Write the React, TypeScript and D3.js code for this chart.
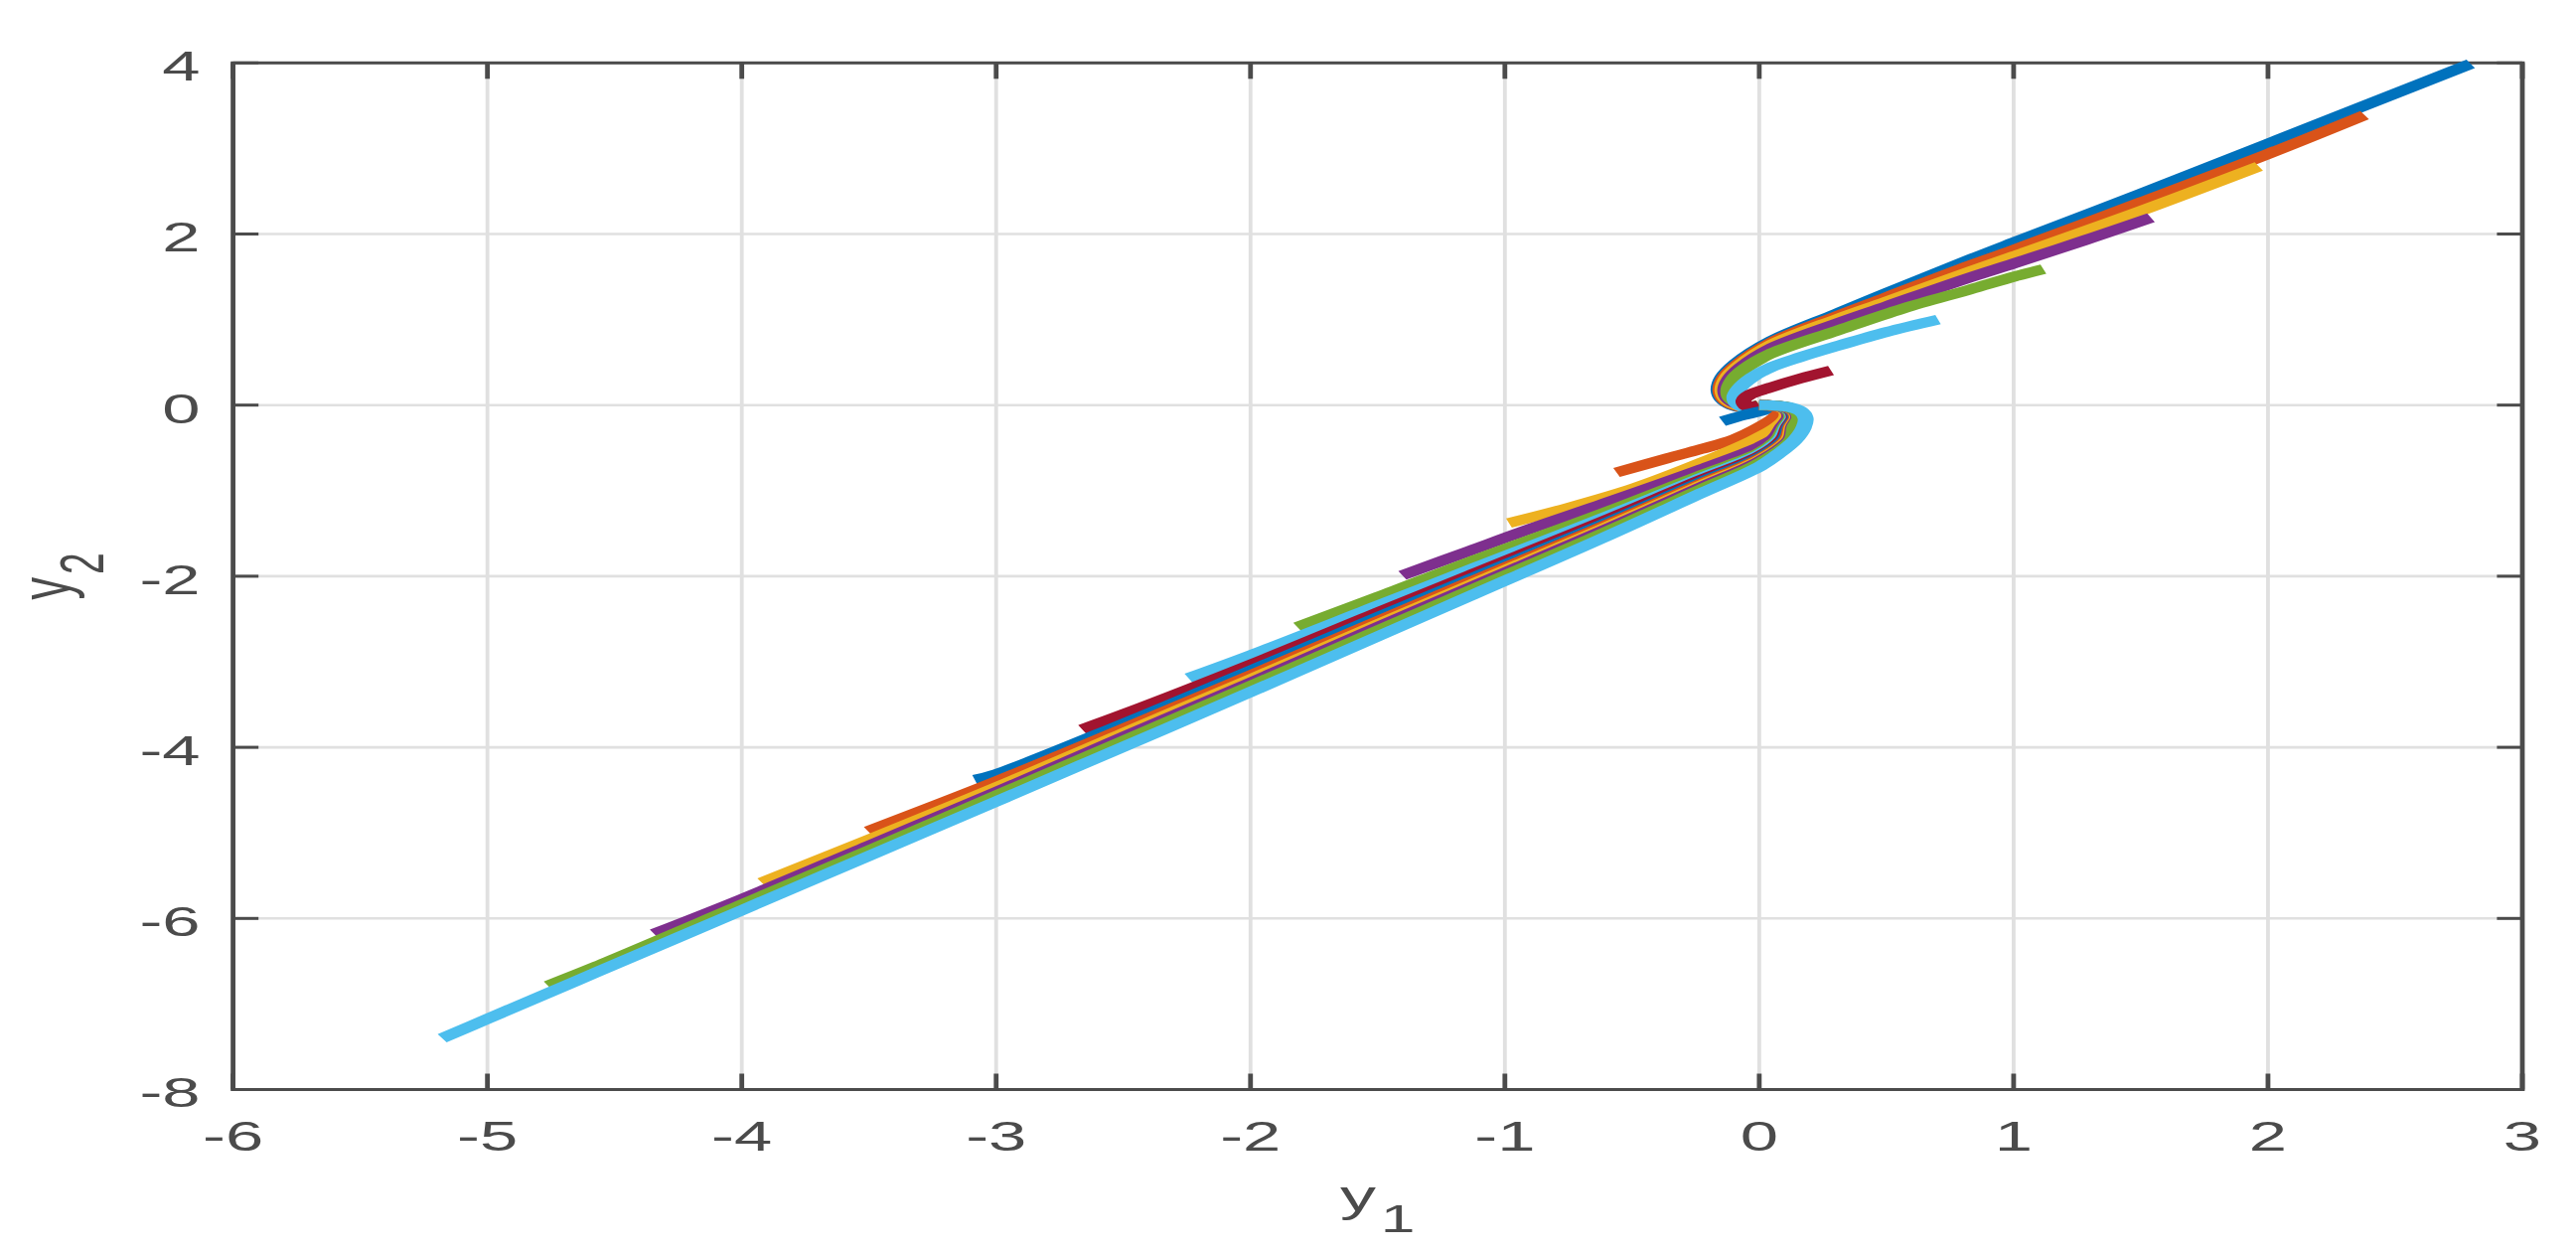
import React from "react";
import * as d3 from "d3";

// ---- axis ticks ----
const X_TICKS = [-6, -5, -4, -3, -2, -1, 0, 1, 2, 3];
const Y_TICKS = [4, 2, 0, -2, -4, -6, -8];

// MATLAB default colour order
const LINE_COLORS = ["#0072BD", "#D95319", "#EDB120", "#7E2F8E", "#77AC30", "#4DBEEE", "#A2142F"];

// ---- trajectories [y1, y2] ----
const T1 = [[2.797,3.99],[2.4,3.525],[2.0,3.055],[1.5,2.47],[1.0,1.9],[0.827,1.70],[0.5,1.31],[0.305,1.07],[0.044,0.745],[-0.09,0.49],[-0.145,0.32],[-0.16,0.17],[-0.145,0.07],[-0.11,0.0],[-0.06,-0.035],[-0.02,-0.02],[0,0]];
const T2 = [[2.38,3.39],[2.0,2.935],[1.5,2.37],[1.0,1.815],[0.827,1.63],[0.5,1.26],[0.305,1.04],[0.044,0.725],[-0.085,0.475],[-0.138,0.315],[-0.153,0.17],[-0.138,0.07],[-0.102,0.002],[-0.055,-0.03],[-0.018,-0.018],[0,0]];
const T3 = [[1.964,2.79],[1.5,2.27],[1.0,1.74],[0.827,1.56],[0.5,1.21],[0.305,1.005],[0.044,0.70],[-0.08,0.46],[-0.13,0.31],[-0.145,0.17],[-0.13,0.07],[-0.094,0.005],[-0.05,-0.025],[-0.017,-0.015],[0,0]];
const T4 = [[1.54,2.19],[1.283,1.93],[1.0,1.655],[0.827,1.49],[0.5,1.155],[0.305,0.955],[0.044,0.66],[-0.072,0.44],[-0.118,0.30],[-0.134,0.17],[-0.12,0.07],[-0.085,0.01],[-0.045,-0.02],[-0.015,-0.01],[0,0]];
const T5 = [[1.117,1.59],[1.006,1.505],[0.827,1.35],[0.566,1.13],[0.305,0.87],[0.044,0.60],[-0.06,0.42],[-0.105,0.29],[-0.122,0.16],[-0.11,0.07],[-0.075,0.015],[-0.04,-0.015],[-0.015,-0.01],[0,0]];
const T6 = [[0.703,1.0],[0.5,0.855],[0.305,0.69],[0.16,0.56],[0.044,0.44],[-0.03,0.32],[-0.08,0.19],[-0.098,0.09],[-0.085,0.01],[-0.05,-0.03],[-0.015,-0.018],[0,0]];
const T7 = [[0.282,0.405],[0.16,0.31],[0.031,0.194],[-0.035,0.125],[-0.062,0.05],[-0.05,-0.012],[-0.02,-0.014],[0,0]];
const T8 = [[-0.145,-0.19],[-0.06,-0.117],[0.018,-0.06],[0.042,-0.03],[0.025,-0.008],[0,0]];
const T9 = [[-0.561,-0.788],[-0.36,-0.62],[-0.23,-0.515],[-0.1,-0.40],[0.005,-0.25],[0.065,-0.135],[0.09,-0.06],[0.072,-0.02],[0.03,-0.006],[0,0]];
const T10 = [[-0.984,-1.379],[-0.75,-1.20],[-0.49,-0.97],[-0.229,-0.675],[-0.03,-0.42],[0.068,-0.26],[0.105,-0.15],[0.104,-0.07],[0.08,-0.022],[0.038,-0.004],[0,0]];
const T11 = [[-1.403,-1.99],[-1.14,-1.705],[-0.9,-1.445],[-0.62,-1.16],[-0.229,-0.75],[0,-0.49],[0.06,-0.39],[0.09,-0.26],[0.117,-0.15],[0.112,-0.07],[0.085,-0.022],[0.04,-0.004],[0,0]];
const T12 = [[-1.816,-2.593],[-1.5,-2.244],[-1.14,-1.836],[-0.62,-1.27],[-0.229,-0.82],[0,-0.56],[0.07,-0.41],[0.10,-0.26],[0.125,-0.15],[0.118,-0.07],[0.089,-0.022],[0.042,-0.004],[0,0]];
const T13 = [[-2.244,-3.19],[-2,-2.924],[-1.5,-2.344],[-1.14,-1.926],[-0.62,-1.325],[-0.229,-0.85],[0,-0.58],[0.08,-0.41],[0.107,-0.26],[0.131,-0.15],[0.123,-0.07],[0.093,-0.022],[0.044,-0.004],[0,0]];
const T14 = [[-2.662,-3.79],[-2.5,-3.614],[-2,-3.034],[-1.5,-2.424],[-1.14,-1.991],[-0.62,-1.365],[-0.229,-0.875],[0,-0.60],[0.09,-0.41],[0.113,-0.26],[0.136,-0.15],[0.127,-0.07],[0.096,-0.022],[0.046,-0.004],[0,0]];
const T15 = [[-3.084,-4.38],[-3,-4.314],[-2.5,-3.724],[-2,-3.104],[-1.5,-2.479],[-1.14,-2.036],[-0.62,-1.40],[-0.229,-0.90],[0,-0.615],[0.098,-0.41],[0.118,-0.26],[0.141,-0.15],[0.131,-0.07],[0.099,-0.022],[0.048,-0.004],[0,0]];
const T16 = [[-3.504,-4.98],[-3,-4.399],[-2.5,-3.784],[-2,-3.159],[-1.5,-2.524],[-1.14,-2.071],[-0.62,-1.425],[-0.229,-0.92],[0,-0.63],[0.106,-0.41],[0.123,-0.26],[0.145,-0.15],[0.135,-0.07],[0.102,-0.022],[0.05,-0.004],[0,0]];
const T17 = [[-3.922,-5.58],[-3.5,-5.079],[-3,-4.469],[-2.5,-3.834],[-2,-3.204],[-1.5,-2.564],[-1.14,-2.106],[-0.62,-1.45],[-0.229,-0.94],[0,-0.645],[0.113,-0.41],[0.128,-0.26],[0.149,-0.15],[0.139,-0.07],[0.105,-0.022],[0.051,-0.004],[0,0]];
const T18 = [[-4.345,-6.18],[-4,-5.774],[-3.5,-5.149],[-3,-4.524],[-2.5,-3.879],[-2,-3.244],[-1.5,-2.594],[-1.14,-2.136],[-0.62,-1.475],[-0.229,-0.96],[0,-0.66],[0.12,-0.41],[0.133,-0.26],[0.153,-0.15],[0.143,-0.07],[0.108,-0.022],[0.052,-0.004],[0,0]];
const T19 = [[-4.762,-6.785],[-4.573,-6.562],[-4,-5.839],[-3.5,-5.204],[-3,-4.564],[-2.5,-3.924],[-2,-3.284],[-1.5,-2.636],[-1.14,-2.171],[-0.62,-1.505],[-0.229,-0.985],[0,-0.68],[0.126,-0.41],[0.138,-0.26],[0.157,-0.15],[0.147,-0.07],[0.111,-0.022],[0.053,-0.004],[0,0]];
const T20 = [[-5.178,-7.40],[-5,-7.174],[-4.573,-6.632],[-4,-5.904],[-3.5,-5.269],[-3,-4.634],[-2.5,-3.994],[-2,-3.354],[-1.5,-2.704],[-1.14,-2.236],[-0.62,-1.56],[-0.229,-1.03],[0,-0.72],[0.08,-0.56],[0.14,-0.41],[0.175,-0.26],[0.182,-0.15],[0.162,-0.07],[0.115,-0.022],[0.055,-0.004],[0,0]];

const TRAJECTORIES = [T1, T2, T3, T4, T5, T6, T7, T8, T9, T10, T11, T12, T13, T14, T15, T16, T17, T18, T19, T20];

export default function App() {
  const W = 2593, H = 1260;
  const SX = 1.6; // horizontal stretch of the original figure
  const L = 234.6 / SX, R = 2539 / SX, TOP = 63.3, BOT = 1096.5;
  const x = d3.scaleLinear().domain([-6, 3]).range([L, R]);
  const y = d3.scaleLinear().domain([-8, 4]).range([BOT, TOP]);
  const line = d3
    .line()
    .x((d: any) => x(d[0]))
    .y((d: any) => y(d[1]))
    .curve(d3.curveCatmullRom.alpha(0.5));

  const axisColor = "#4b4b4b";
  const gridColor = "#e0e0e0";
  const font = "'Liberation Sans', Arial, Helvetica, sans-serif";
  const tickLen = 16;

  return (
    <svg width={W} height={H} style={{ position: "absolute", left: 0, top: 0, background: "#fff" }}>
      <rect x={0} y={0} width={W} height={H} fill="#ffffff" />
      <g transform={`scale(${SX},1)`}>
        {/* grid */}
        {X_TICKS.map((t) => (
          <line key={"gx" + t} x1={x(t)} x2={x(t)} y1={TOP} y2={BOT} stroke={gridColor} strokeWidth={2.4} />
        ))}
        {Y_TICKS.map((t) => (
          <line key={"gy" + t} x1={L} x2={R} y1={y(t)} y2={y(t)} stroke={gridColor} strokeWidth={2.6} />
        ))}

        {/* box */}
        <rect x={L} y={TOP} width={R - L} height={BOT - TOP} fill="none" stroke={axisColor} strokeWidth={3} />

        {/* ticks */}
        {X_TICKS.map((t) => (
          <g key={"tx" + t}>
            <line x1={x(t)} x2={x(t)} y1={BOT} y2={BOT - tickLen} stroke={axisColor} strokeWidth={3} />
            <line x1={x(t)} x2={x(t)} y1={TOP} y2={TOP + tickLen} stroke={axisColor} strokeWidth={3} />
          </g>
        ))}
        {Y_TICKS.map((t) => (
          <g key={"ty" + t}>
            <line x1={L} x2={L + tickLen} y1={y(t)} y2={y(t)} stroke={axisColor} strokeWidth={3} />
            <line x1={R} x2={R - tickLen} y1={y(t)} y2={y(t)} stroke={axisColor} strokeWidth={3} />
          </g>
        ))}

        {/* tick labels */}
        {X_TICKS.map((t) => (
          <text key={"lx" + t} x={x(t)} y={1158} textAnchor="middle" fontFamily={font} fontSize={43} fill={axisColor}>
            {String(t)}
          </text>
        ))}
        {Y_TICKS.map((t) => (
          <text key={"ly" + t} x={126} y={y(t) + 18} textAnchor="end" fontFamily={font} fontSize={43} fill={axisColor}>
            {String(t)}
          </text>
        ))}

        {/* axis labels */}
        <text x={(L + R) / 2} y={1219} textAnchor="middle" fontFamily={font} fontSize={45} fill={axisColor}>
          y<tspan dx={3} dy={21} fontSize={39}>1</tspan>
        </text>
        <text
          transform={`translate(44, ${(TOP + BOT) / 2}) rotate(-90)`}
          textAnchor="middle"
          fontFamily={font}
          fontSize={45}
          fill={axisColor}
        >
          y<tspan dx={3} dy={21} fontSize={39}>2</tspan>
        </text>

        {/* trajectories */}
        {TRAJECTORIES.map((tr, i) => (
          <path
            key={"tr" + i}
            d={line(tr as any) || ""}
            fill="none"
            stroke={LINE_COLORS[i % LINE_COLORS.length]}
            strokeWidth={10}
            strokeLinecap="butt"
            strokeLinejoin="round"
          />
        ))}
      </g>
    </svg>
  );
}
